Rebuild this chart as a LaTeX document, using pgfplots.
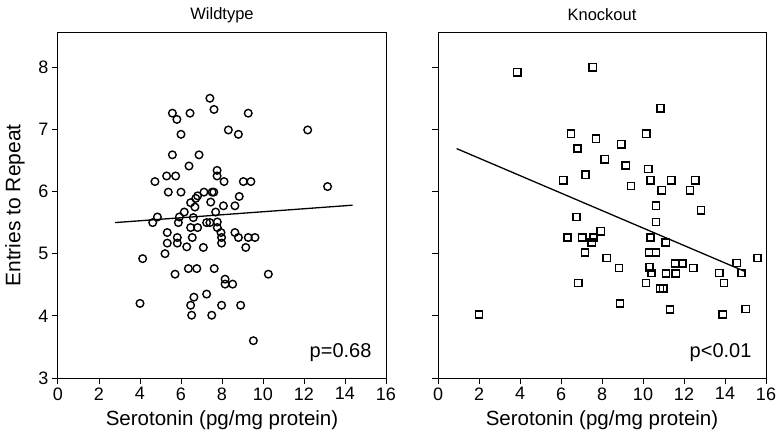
\documentclass[border=0pt]{standalone}
\usepackage{pgfplots}
\pgfplotsset{compat=1.18}
\usepackage{pgfplotstable}
\usepackage{fontspec}
\setmainfont{Liberation Sans}

\pgfplotstableread{
x y
7.41 7.50
7.61 7.32
5.58 7.26
5.80 7.16
6.44 7.26
9.28 7.26
8.31 6.99
8.80 6.92
12.18 6.99
6.00 6.92
5.58 6.59
6.88 6.59
6.39 6.41
5.30 6.25
5.74 6.25
4.73 6.16
7.76 6.34
7.76 6.25
8.10 6.16
9.04 6.16
9.41 6.16
13.15 6.08
5.38 5.99
6.00 5.99
7.12 5.99
7.52 5.99
7.60 5.99
8.84 5.92
6.81 5.93
6.72 5.89
6.47 5.82
7.45 5.83
6.68 5.75
8.07 5.77
8.63 5.77
6.16 5.67
7.69 5.67
4.85 5.59
4.62 5.50
5.92 5.59
5.87 5.50
6.60 5.58
7.25 5.50
7.41 5.50
7.77 5.51
6.47 5.42
6.81 5.42
7.77 5.42
7.95 5.34
5.33 5.34
8.63 5.34
5.82 5.26
6.55 5.26
7.98 5.26
8.80 5.26
9.28 5.26
9.61 5.26
5.33 5.17
5.82 5.17
7.98 5.17
6.28 5.11
7.09 5.10
9.16 5.10
5.22 5.00
4.13 4.92
6.36 4.76
6.77 4.76
7.62 4.76
5.71 4.67
10.26 4.67
8.15 4.59
8.15 4.51
8.52 4.51
4.00 4.20
6.63 4.30
6.47 4.17
7.25 4.35
7.98 4.17
8.91 4.17
6.52 4.01
7.50 4.01
9.53 3.60
}\wildtype

\pgfplotstableread{
x y
3.87 7.92
7.55 8.00
6.49 6.93
6.81 6.69
7.19 6.27
6.11 6.18
10.86 7.34
10.16 6.93
7.71 6.85
8.94 6.76
8.13 6.52
9.16 6.42
10.26 6.36
10.37 6.18
11.38 6.18
12.55 6.18
9.41 6.09
10.91 6.02
12.29 6.02
10.63 5.77
12.83 5.70
6.76 5.59
10.63 5.51
6.31 5.26
7.04 5.26
7.58 5.26
7.50 5.18
7.94 5.36
7.17 5.02
8.23 4.93
8.83 4.77
10.37 5.26
11.11 5.18
10.29 5.02
10.63 5.02
10.31 4.78
10.42 4.69
11.56 4.84
11.92 4.84
12.45 4.77
11.12 4.68
11.60 4.68
6.84 4.53
10.15 4.53
10.83 4.44
10.99 4.44
8.88 4.20
11.32 4.10
2.00 4.02
13.72 4.69
13.95 4.53
14.57 4.85
14.81 4.69
15.59 4.93
13.89 4.02
15.01 4.11
}\knockout

\pgfplotsset{
  panel/.style={
    scale only axis,
    width=328pt, height=345pt,
    xmin=0, xmax=16, ymin=3, ymax=8.55,
    xtick={0,2,...,16}, ytick={3,4,...,8},
    tick align=outside, tick pos=left,
    major tick length=6pt,
    axis line style={line width=1pt},
    every tick/.style={line width=1pt, black},
    tick label style={font=\fontsize{18}{20}\selectfont},
    /pgf/number format/assume math mode=true,
    xlabel style={font=\fontsize{20.5}{22}\selectfont, at={(axis description cs:0.5,-0.122)}, anchor=center},
    ylabel style={font=\fontsize{21}{23}\selectfont, at={(axis description cs:-0.131,0.5)}, anchor=center},
    clip=false,
  },
}

\begin{document}
\begin{tikzpicture}
\useasboundingbox (0,0) rectangle (784pt,439pt);
\begin{axis}[panel, at={(58pt,61pt)}, anchor=south west,
  xlabel={Serotonin (pg/mg protein)}, ylabel={Entries to Repeat}]
\addplot[only marks, mark=o, mark size=3.8pt, mark options={line width=1.4pt, black}] table[x=x,y=y] {\wildtype};
\addplot[black, line width=1.3pt] coordinates {(2.78,5.50) (14.37,5.78)};
\node[anchor=base east, font=\fontsize{20}{22}\selectfont] at ([xshift=-11pt,yshift=20pt]rel axis cs:1,0) {p=0.68};
\node[anchor=center, font=\fontsize{16.5}{18}\selectfont] at ([yshift=18pt]rel axis cs:0.5,1) {Wildtype};
\end{axis}
\begin{axis}[panel, at={(438pt,61pt)}, anchor=south west,
  xlabel={Serotonin (pg/mg protein)}, yticklabels={}]
\addplot[only marks, mark=square, mark size=3.6pt, mark options={line width=1.5pt, black}] table[x=x,y=y] {\knockout};
\addplot[black, line width=1.3pt] coordinates {(0.91,6.69) (15.0,4.71)};
\node[anchor=base east, font=\fontsize{20}{22}\selectfont] at ([xshift=-11pt,yshift=20pt]rel axis cs:1,0) {p<0.01};
\node[anchor=center, font=\fontsize{16.5}{18}\selectfont] at ([yshift=18pt]rel axis cs:0.5,1) {Knockout};
\end{axis}
\end{tikzpicture}
\end{document}
